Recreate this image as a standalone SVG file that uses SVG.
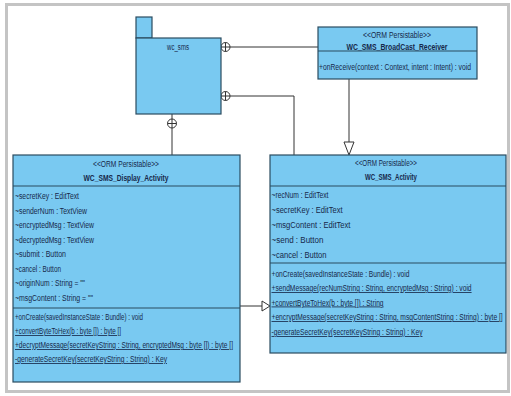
<svg xmlns="http://www.w3.org/2000/svg" width="511" height="396" viewBox="0 0 511 396">
<style>
.box{fill:#79c9f1;stroke:#2b4c60;stroke-width:1.2}
.sep{stroke:#2b4c60;stroke-width:1.2}
.t{font-family:"Liberation Sans",Arial,sans-serif;font-size:8.3px;fill:#16284a}
.c{text-anchor:middle}
.b{font-weight:bold}
.u{text-decoration:underline}
.ln{fill:none;stroke:#333;stroke-width:1}
.hd{fill:#fff;stroke:#333;stroke-width:1}
</style>
<rect x="6.5" y="4.5" width="502" height="387" fill="#fff" stroke="#c4c4c4" stroke-width="3"/>
<g id="connectors">
<path class="ln" d="M230 47 H318"/>
<circle class="hd" cx="225.5" cy="47" r="4.5"/><path class="ln" d="M221 47 H230 M225.5 42.5 V51.5"/>
<path class="ln" d="M230 96 H294 V155"/>
<circle class="hd" cx="225.5" cy="96" r="4.5"/><path class="ln" d="M221 96 H230 M225.5 91.5 V100.5"/>
<path class="ln" d="M172 128 V155"/>
<circle class="hd" cx="172" cy="123.5" r="4.5"/><path class="ln" d="M172 114 V128 M167.5 123.5 H176.5"/>
<path class="ln" d="M349 79 V142"/>
<path class="hd" d="M344 142 L354 142 L349 155 Z"/>
<path class="ln" d="M240 306 H262"/>
<path class="hd" d="M262 301 L262 311 L270 306 Z"/>
</g>
<g id="wc_sms">
<rect class="box" x="136" y="17" width="16" height="21"/>
<rect class="box" x="136" y="38" width="85" height="76"/>
<text class="t c" x="178" y="50" textLength="22" lengthAdjust="spacingAndGlyphs">wc_sms</text>
</g>
<g id="WC_SMS_BroadCast_Receiver">
<rect class="box" x="318" y="27" width="159" height="52"/>
<line class="sep" x1="318" y1="51" x2="477" y2="51"/>
<text class="t c" x="397" y="38" textLength="68" lengthAdjust="spacingAndGlyphs">&lt;&lt;ORM Persistable&gt;&gt;</text>
<text class="t c b" x="397" y="49.5" textLength="101" lengthAdjust="spacingAndGlyphs">WC_SMS_BroadCast_Receiver</text>
<text class="t" x="319" y="70" textLength="152" lengthAdjust="spacingAndGlyphs">+onReceive(context : Context, intent : Intent) : void</text>
</g>
<g id="WC_SMS_Display_Activity">
<rect class="box" x="13" y="155" width="227" height="227"/>
<line class="sep" x1="13" y1="186" x2="240" y2="186"/>
<line class="sep" x1="13" y1="308" x2="240" y2="308"/>
<text class="t c" x="126" y="167" textLength="66" lengthAdjust="spacingAndGlyphs">&lt;&lt;ORM Persistable&gt;&gt;</text>
<text class="t c b" x="126" y="181" textLength="85" lengthAdjust="spacingAndGlyphs">WC_SMS_Display_Activity</text>
<text class="t" x="15" y="199" textLength="64" lengthAdjust="spacingAndGlyphs">~secretKey : EditText</text>
<text class="t" x="15" y="213.5" textLength="72" lengthAdjust="spacingAndGlyphs">~senderNum : TextView</text>
<text class="t" x="15" y="228" textLength="79" lengthAdjust="spacingAndGlyphs">~encryptedMsg : TextView</text>
<text class="t" x="15" y="242.5" textLength="79" lengthAdjust="spacingAndGlyphs">~decryptedMsg : TextView</text>
<text class="t" x="15" y="257" textLength="51" lengthAdjust="spacingAndGlyphs">~submit : Button</text>
<text class="t" x="15" y="271.5" textLength="46" lengthAdjust="spacingAndGlyphs">~cancel : Button</text>
<text class="t" x="15" y="286" textLength="70" lengthAdjust="spacingAndGlyphs">~originNum : String = ""</text>
<text class="t" x="15" y="300.5" textLength="78" lengthAdjust="spacingAndGlyphs">~msgContent : String = ""</text>
<text class="t" x="15" y="320" textLength="128" lengthAdjust="spacingAndGlyphs">+onCreate(savedInstanceState : Bundle) : void</text>
<text class="t u" x="15" y="334" textLength="106" lengthAdjust="spacingAndGlyphs">+convertByteToHex(b : byte []) : byte []</text>
<text class="t u" x="15" y="348" textLength="218" lengthAdjust="spacingAndGlyphs">+decryptMessage(secretKeyString : String, encryptedMsg : byte []) : byte []</text>
<text class="t u" x="15" y="362" textLength="152" lengthAdjust="spacingAndGlyphs">-generateSecretKey(secretKeyString : String) : Key</text>
</g>
<g id="WC_SMS_Activity">
<rect class="box" x="270" y="155" width="236" height="198"/>
<line class="sep" x1="270" y1="186" x2="506" y2="186"/>
<line class="sep" x1="270" y1="263" x2="506" y2="263"/>
<text class="t c" x="386" y="166" textLength="62" lengthAdjust="spacingAndGlyphs">&lt;&lt;ORM Persistable&gt;&gt;</text>
<text class="t c b" x="391" y="180" textLength="52" lengthAdjust="spacingAndGlyphs">WC_SMS_Activity</text>
<text class="t" x="271.5" y="198" textLength="57" lengthAdjust="spacingAndGlyphs">~recNum : EditText</text>
<text class="t" x="271.5" y="213" textLength="71" lengthAdjust="spacingAndGlyphs">~secretKey : EditText</text>
<text class="t" x="271.5" y="228" textLength="79" lengthAdjust="spacingAndGlyphs">~msgContent : EditText</text>
<text class="t" x="271.5" y="243" textLength="52" lengthAdjust="spacingAndGlyphs">~send : Button</text>
<text class="t" x="271.5" y="258" textLength="55" lengthAdjust="spacingAndGlyphs">~cancel : Button</text>
<text class="t" x="271.5" y="277" textLength="138" lengthAdjust="spacingAndGlyphs">+onCreate(savedInstanceState : Bundle) : void</text>
<text class="t u" transform="translate(271.5,0) scale(0.82,1)" x="0" y="291" textLength="244" lengthAdjust="spacingAndGlyphs">+sendMessage(recNumString : String, encryptedMsg : String) : void</text>
<text class="t u" x="271.5" y="305.5" textLength="112" lengthAdjust="spacingAndGlyphs">+convertByteToHex(b : byte []) : String</text>
<text class="t u" transform="translate(271.5,0) scale(0.82,1)" x="0" y="320" textLength="282" lengthAdjust="spacingAndGlyphs">+encryptMessage(secretKeyString : String, msgContentString : String) : byte []</text>
<text class="t u" x="271.5" y="335" textLength="151" lengthAdjust="spacingAndGlyphs">-generateSecretKey(secretKeyString : String) : Key</text>
</g>
</svg>
